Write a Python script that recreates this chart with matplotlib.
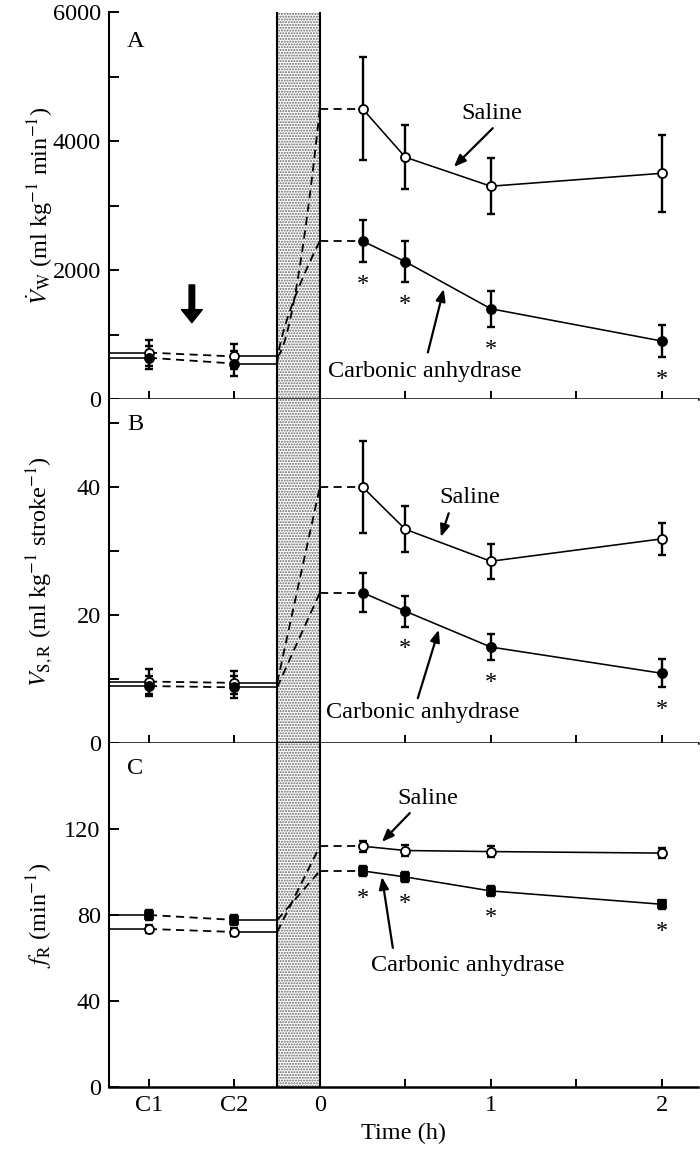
import matplotlib
matplotlib.use("Agg")
import matplotlib.pyplot as plt
import numpy as np

plt.rcParams["font.family"] = ["Liberation Serif", "DejaVu Serif"]
plt.rcParams["mathtext.fontset"] = "stix"
plt.rcParams["hatch.linewidth"] = 1.0

# ---- data -------------------------------------------------------------
ctrl_x = [-1.0, -0.5]           # C1, C2 control samples
post_t = [0.25, 0.5, 1.0, 2.0]  # hours after infusion
infusion = (-0.25, 0.0)         # infusion period

# Panel A: ventilation (ml kg-1 min-1)
sal_ctrl_A = [720, 660]
sal_ctrl_A_err = [200, 190]
ca_ctrl_A = [640, 550]
ca_ctrl_A_err = [180, 200]
sal_A = [4500, 3750, 3300, 3500]
sal_A_err = [800, 500, 430, 600]
ca_A = [2450, 2130, 1400, 900]
ca_A_err = [330, 320, 280, 250]
sig_A = [True, True, True, True]

# Panel B: stroke volume (ml kg-1 stroke-1)
sal_ctrl_B = [9.6, 9.4]
sal_ctrl_B_err = [2.0, 1.8]
ca_ctrl_B = [8.9, 8.7]
ca_ctrl_B_err = [1.6, 1.7]
sal_B = [40.0, 33.4, 28.4, 31.9]
sal_B_err = [7.2, 3.6, 2.7, 2.5]
ca_B = [23.5, 20.6, 15.0, 10.9]
ca_B_err = [3.1, 2.4, 2.0, 2.2]
sig_B = [False, True, True, True]

# Panel C: ventilation frequency (min-1)
sal_ctrl_C = [73.5, 72.1]
sal_ctrl_C_err = [2.0, 2.0]
ca_ctrl_C = [80.0, 77.7]
ca_ctrl_C_err = [2.5, 2.5]
sal_C = [112.0, 110.0, 109.5, 108.8]
sal_C_err = [2.5, 2.5, 2.5, 2.5]
ca_C = [100.5, 97.7, 91.2, 85.0]
ca_C_err = [2.5, 2.2, 2.2, 2.2]
sig_C = [True, True, True, True]

xtick_pos = [-1.0, -0.5, 0.0, 0.5, 1.0, 1.5, 2.0]
xtick_lab = ["C1", "C2", "0", "", "1", "", "2"]

FS = 17.5
XL = (-1.234, 2.211)
LW_DATA = 1.15
LW_DASH = 1.3
DASH = (0, (4.5, 3))

fig = plt.figure(figsize=(7, 11.5), dpi=100)
left, width = 0.1557, 0.841
axA = fig.add_axes([left, 0.6530, width, 0.3365])
axB = fig.add_axes([left, 0.3539, width, 0.2991])
axC = fig.add_axes([left, 0.0548, width, 0.2991])

panels = [
    dict(ax=axA, ylim=(0, 6000), major=[0, 2000, 4000, 6000], minor=[1000, 3000, 5000],
         ylabel=r"$\dot{V}_{\mathrm{W}}$ (ml kg$^{-1}$ min$^{-1}$)", letter="A",
         sal_ctrl=sal_ctrl_A, sal_ctrl_err=sal_ctrl_A_err, ca_ctrl=ca_ctrl_A, ca_ctrl_err=ca_ctrl_A_err,
         sal=sal_A, sal_err=sal_A_err, ca=ca_A, ca_err=ca_A_err, sig=sig_A, ca_marker="o",
         bend=(1.6, 0.7),
         sal_text=(1.006, 4430), sal_arrow=((1.012, 4200), (0.784, 3600)),
         ca_text=(0.611, 420), ca_arrow=((0.632, 723), (0.725, 1707))),
    dict(ax=axB, ylim=(0, 53.75), major=[0, 20, 40], minor=[10, 30, 50],
         ylabel=r"$V_{\mathrm{S,R}}$ (ml kg$^{-1}$ stroke$^{-1}$)", letter="B",
         sal_ctrl=sal_ctrl_B, sal_ctrl_err=sal_ctrl_B_err, ca_ctrl=ca_ctrl_B, ca_ctrl_err=ca_ctrl_B_err,
         sal=sal_B, sal_err=sal_B_err, ca=ca_B, ca_err=ca_B_err, sig=sig_B, ca_marker="o",
         bend=(1.0, 1.0),
         sal_text=(0.877, 38.4), sal_arrow=((0.754, 35.9), (0.708, 32.2)),
         ca_text=(0.60, 4.8), ca_arrow=((0.573, 7.0), (0.696, 17.7))),
    dict(ax=axC, ylim=(0, 160), major=[0, 40, 80, 120], minor=[],
         ylabel=r"$f_{\mathrm{R}}$ (min$^{-1}$)", letter="C",
         sal_ctrl=sal_ctrl_C, sal_ctrl_err=sal_ctrl_C_err, ca_ctrl=ca_ctrl_C, ca_ctrl_err=ca_ctrl_C_err,
         sal=sal_C, sal_err=sal_C_err, ca=ca_C, ca_err=ca_C_err, sig=sig_C, ca_marker="s",
         bend=(1.0, 1.0),
         sal_text=(0.632, 134.4), sal_arrow=((0.526, 127.4), (0.363, 114.0)),
         ca_text=(0.865, 56.7), ca_arrow=((0.427, 64.7), (0.363, 97.7))),
]


def draw_series(ax, ctrl, ctrl_err, post, post_err, marker, filled, bend):
    # baseline segment from the axis to C1, dashed C1 -> C2, solid C2 -> infusion
    ax.plot([XL[0], ctrl_x[0]], [ctrl[0], ctrl[0]], color="k", lw=LW_DATA, zorder=2)
    ax.plot(ctrl_x, ctrl, color="k", lw=LW_DASH, ls=DASH, zorder=2)
    ax.plot([ctrl_x[1], infusion[0]], [ctrl[1], ctrl[1]], color="k", lw=LW_DATA, zorder=2)
    # rise during the infusion
    s = np.linspace(0, 1, 40)
    xs = infusion[0] + (infusion[1] - infusion[0]) * s
    ys = ctrl[1] + (post[0] - ctrl[1]) * s ** bend
    ax.plot(xs, ys, color="k", lw=LW_DASH, ls=DASH, zorder=2)
    ax.plot([infusion[1], post_t[0]], [post[0], post[0]], color="k", lw=LW_DASH, ls=DASH, zorder=2)
    # post-infusion trace
    ax.plot(post_t, post, color="k", lw=LW_DATA, zorder=2)
    xall = ctrl_x + post_t
    yall = list(ctrl) + list(post)
    eall = list(ctrl_err) + list(post_err)
    ax.errorbar(xall, yall, yerr=eall, fmt="none", ecolor="k", elinewidth=1.7,
                capsize=3, capthick=1.7, zorder=3)
    ax.plot(xall, yall, ls="none", marker=marker, ms=6.5 if marker == "o" else 6.0,
            mfc="k" if filled else "white", mec="k", mew=1.3, zorder=4)


for i, p in enumerate(panels):
    ax = p["ax"]
    ax.set_xlim(*XL)
    ax.set_ylim(*p["ylim"])
    for side in ("top", "right"):
        ax.spines[side].set_visible(False)
    ax.spines["left"].set_linewidth(1.5)
    ax.spines["bottom"].set_linewidth(1.8)

    # stippled infusion band
    ax.axvspan(infusion[0], infusion[1], facecolor="white", hatch="......",
               edgecolor="#666666", lw=0, zorder=0)
    for xv in infusion:
        ax.axvline(xv, color="k", lw=1.5, zorder=1)

    ax.set_yticks(p["major"])
    ax.set_yticks(p["minor"], minor=True)
    ax.tick_params(axis="y", which="both", direction="in", length=7.5, width=1.4,
                   labelsize=FS, pad=6)
    ax.set_xticks(xtick_pos)
    ax.tick_params(axis="x", direction="in", length=6, width=1.4, labelsize=FS, pad=6)
    if i < 2:
        ax.set_xticklabels([])
    else:
        ax.set_xticklabels(xtick_lab)
        ax.set_xlabel("Time (h)", fontsize=FS, labelpad=5)

    ax.set_ylabel(p["ylabel"], fontsize=FS)
    ax.yaxis.set_label_coords(-0.092, 0.5)
    ax.text(0.031, 0.925, p["letter"], transform=ax.transAxes, fontsize=FS,
            ha="left", va="center")

    draw_series(ax, p["sal_ctrl"], p["sal_ctrl_err"], p["sal"], p["sal_err"],
                "o", False, p["bend"][0])
    draw_series(ax, p["ca_ctrl"], p["ca_ctrl_err"], p["ca"], p["ca_err"],
                p["ca_marker"], True, p["bend"][1])

    # significance marks below the carbonic anhydrase points
    for t, v, e, flag in zip(post_t, p["ca"], p["ca_err"], p["sig"]):
        if flag:
            ax.annotate("*", xy=(t, v - e), xytext=(0, -16), textcoords="offset points",
                        ha="center", va="center", fontsize=FS)

    # labels with pointers
    ax.text(*p["sal_text"], "Saline", fontsize=FS, ha="center", va="center")
    ax.text(*p["ca_text"], "Carbonic anhydrase", fontsize=FS, ha="center", va="center")
    arrow_kw = dict(arrowstyle="-|>,head_length=0.55,head_width=0.22", color="k",
                    lw=1.6, mutation_scale=13, shrinkA=0, shrinkB=0)
    ax.annotate("", xy=p["sal_arrow"][1], xytext=p["sal_arrow"][0], arrowprops=arrow_kw)
    ax.annotate("", xy=p["ca_arrow"][1], xytext=p["ca_arrow"][0], arrowprops=arrow_kw)

# heavy arrow marking the start of treatment in panel A
axA.annotate("", xy=(-0.749, 1184), xytext=(-0.749, 1769),
             arrowprops=dict(arrowstyle="simple,head_length=0.47,head_width=0.75,tail_width=0.2",
                             mutation_scale=20, fc="k", ec="k", shrinkA=0, shrinkB=0))

fig.savefig("out.png", dpi=100)
